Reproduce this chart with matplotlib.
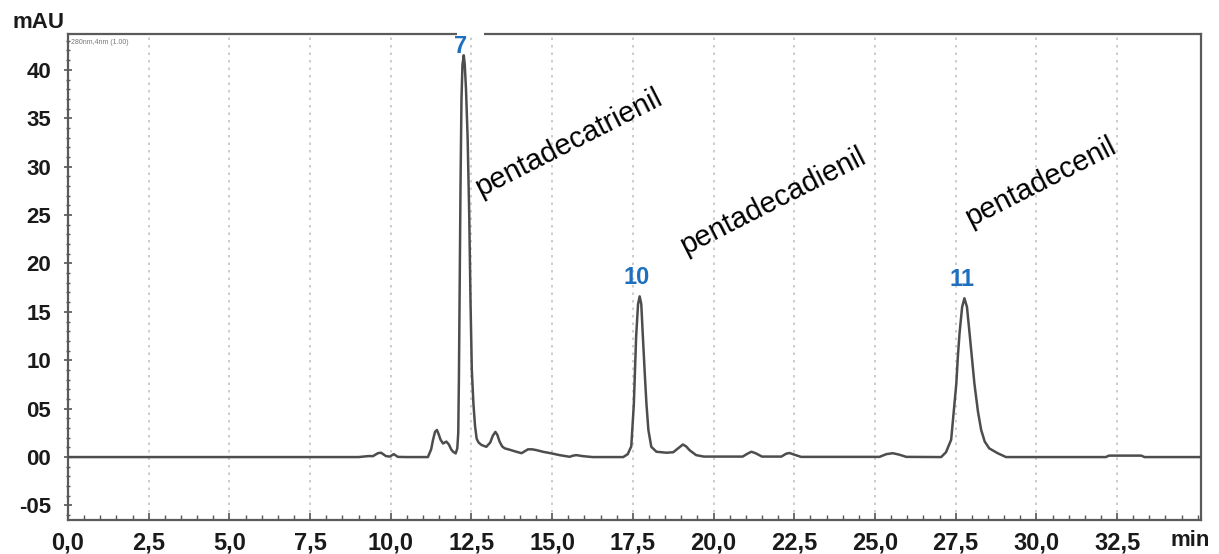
import matplotlib.pyplot as plt
from matplotlib.patches import Rectangle
from matplotlib.ticker import MultipleLocator

plt.rcParams["font.family"] = ["Liberation Sans", "DejaVu Sans"]

# detector trace, time in min / absorbance in mAU
time_min = [
    0.0, 9.0, 9.3, 9.45, 9.6, 9.7, 9.85, 9.97, 10.09, 10.22, 10.5,
    11.15, 11.25, 11.31, 11.37, 11.43, 11.49, 11.54, 11.62, 11.67, 11.72,
    11.80, 11.87, 11.93, 12.01, 12.06, 12.09, 12.11, 12.13, 12.16, 12.19,
    12.22, 12.26, 12.29, 12.33, 12.38, 12.43, 12.47, 12.51, 12.56, 12.61,
    12.66, 12.72, 12.81, 12.96, 13.08, 13.16, 13.24, 13.30, 13.37, 13.45,
    13.53, 13.64, 13.74, 13.89, 14.05, 14.15, 14.25, 14.38, 14.51, 14.71,
    14.98, 15.23, 15.54, 15.65, 15.75, 15.94, 16.25, 17.20, 17.34, 17.45,
    17.53, 17.60, 17.66, 17.71, 17.76, 17.81, 17.87, 17.92, 17.98, 18.07,
    18.23, 18.54, 18.75, 18.90, 19.05, 19.15, 19.26, 19.46, 19.70, 20.90,
    21.05, 21.17, 21.30, 21.50, 22.10, 22.25, 22.35, 22.50, 22.71, 25.14,
    25.35, 25.55, 25.75, 25.97, 27.05, 27.20, 27.36, 27.52, 27.57, 27.62,
    27.70, 27.77, 27.85, 27.93, 28.08, 28.19, 28.29, 28.40, 28.54, 28.80,
    29.06, 32.15, 32.25, 33.25, 33.35, 35.1,
]
signal_mau = [
    0.0, 0.0, 0.1, 0.1, 0.4, 0.45, 0.1, 0.05, 0.3, 0.02, 0.0,
    0.0, 0.8, 1.8, 2.6, 2.8, 2.3, 1.8, 1.4, 1.5, 1.6,
    1.3, 0.8, 0.55, 0.38, 0.9, 2.5, 8.0, 16.0, 28.0, 37.0,
    40.5, 41.5, 40.6, 38.0, 33.0, 25.0, 16.0, 9.0, 5.5, 3.2,
    1.9, 1.5, 1.25, 1.06, 1.5, 2.2, 2.6, 2.3, 1.6, 1.1,
    0.9, 0.8, 0.7, 0.55, 0.4, 0.6, 0.8, 0.8, 0.72, 0.55,
    0.38, 0.2, 0.03, 0.15, 0.2, 0.1, 0.0, 0.0, 0.3, 1.1,
    5.5, 12.4, 15.8, 16.6, 15.8, 12.4, 8.5, 5.5, 2.8, 1.06,
    0.55, 0.45, 0.5, 0.9, 1.3, 1.1, 0.7, 0.2, 0.05, 0.05,
    0.35, 0.55, 0.4, 0.05, 0.05, 0.35, 0.42, 0.25, 0.02, 0.02,
    0.3, 0.4, 0.25, 0.02, 0.0, 0.5, 1.8, 7.6, 10.5, 12.8,
    15.5, 16.4, 15.5, 12.8, 7.6, 4.7, 2.8, 1.6, 0.9, 0.4,
    0.0, 0.0, 0.15, 0.15, 0.0, 0.0,
]

# numbered peaks
peak_labels = ["7", "10", "11"]
peak_times = [12.26, 17.71, 27.77]
peak_heights = [41.5, 16.6, 16.4]
peak_label_lift = [-2, 5, 5]  # points above the apex

# compound names, anchored at the start of their baseline
compound_names = ["pentadecatrienil", "pentadecadienil", "pentadecenil"]
compound_x = [12.78, 19.12, 27.95]
compound_y = [26.9, 20.9, 23.8]

x_ticks = [0.0, 2.5, 5.0, 7.5, 10.0, 12.5, 15.0, 17.5, 20.0, 22.5, 25.0, 27.5, 30.0, 32.5]
x_tick_labels = ["0,0", "2,5", "5,0", "7,5", "10,0", "12,5", "15,0", "17,5",
                 "20,0", "22,5", "25,0", "27,5", "30,0", "32,5"]
y_ticks = [40, 35, 30, 25, 20, 15, 10, 5, 0, -5]
y_tick_labels = ["40", "35", "30", "25", "20", "15", "10", "05", "00", "-05"]

W, H = 1219, 554
fig = plt.figure(figsize=(W / 100, H / 100), dpi=100)
ax = fig.add_axes([68 / W, 34 / H, (1201 - 68) / W, (520 - 34) / H])

ax.plot(time_min, signal_mau, color="#4d4d4d", lw=1.8, solid_joinstyle="round", zorder=3)

ax.set_xlim(0, 35.1)
ax.set_ylim(-6.5, 43.7)

ax.set_xticks(x_ticks)
ax.set_xticklabels(x_tick_labels)
ax.set_yticks(y_ticks)
ax.set_yticklabels(y_tick_labels)
ax.xaxis.set_minor_locator(MultipleLocator(0.5))
ax.yaxis.set_minor_locator(MultipleLocator(1))

ax.tick_params(axis="x", which="major", direction="in", length=5, width=1.2,
               color="#555555", labelsize=17, pad=8)
ax.tick_params(axis="x", which="minor", direction="in", length=3.5, width=1.0,
               color="#555555")
ax.tick_params(axis="y", which="major", direction="inout", length=6, width=1.2,
               color="#555555", labelsize=16, pad=9)
ax.tick_params(axis="y", which="minor", direction="inout", length=3.5, width=1.0,
               color="#555555")
for lab in ax.get_xticklabels() + ax.get_yticklabels():
    lab.set_fontweight("bold")
    lab.set_color("#1a1a1a")

ax.grid(axis="x", which="major", color="#c4c4c4", linestyle=(0, (1.5, 3)), lw=1.2)
ax.set_axisbelow(True)
for sp in ax.spines.values():
    sp.set_color("#5a5a5a")
    sp.set_linewidth(1.6)

# signal description in the corner
ax.text(0.1, 43.2, "280nm,4nm (1.00)", fontsize=5, color="#777777", va="top", ha="left")

for lab, t, h, lift in zip(peak_labels, peak_times, peak_heights, peak_label_lift):
    ax.annotate(lab, xy=(t, h), xytext=(-2, lift), textcoords="offset points",
                ha="center", va="bottom", fontsize=17, fontweight="bold",
                color="#1f6fbf", zorder=4)

for name, x, y in zip(compound_names, compound_x, compound_y):
    ax.text(x, y, name, rotation=27, rotation_mode="anchor", ha="left",
            va="baseline", fontsize=21, color="black")

# gap in the top frame above peak 7
ax.add_patch(Rectangle((457 / W, 1 - 37 / H), 27 / W, 12 / H,
                       transform=fig.transFigure, facecolor="white",
                       edgecolor="none", zorder=3.5, clip_on=False))

fig.text(12 / W, 1 - 22 / H, "mAU", fontsize=16, fontweight="bold",
         ha="left", va="center", color="#1a1a1a")
fig.text(1210 / W, 1 - 541 / H, "min", fontsize=16, fontweight="bold",
         ha="right", va="center", color="#1a1a1a")

fig.savefig("out.png", dpi=100, facecolor="white")
